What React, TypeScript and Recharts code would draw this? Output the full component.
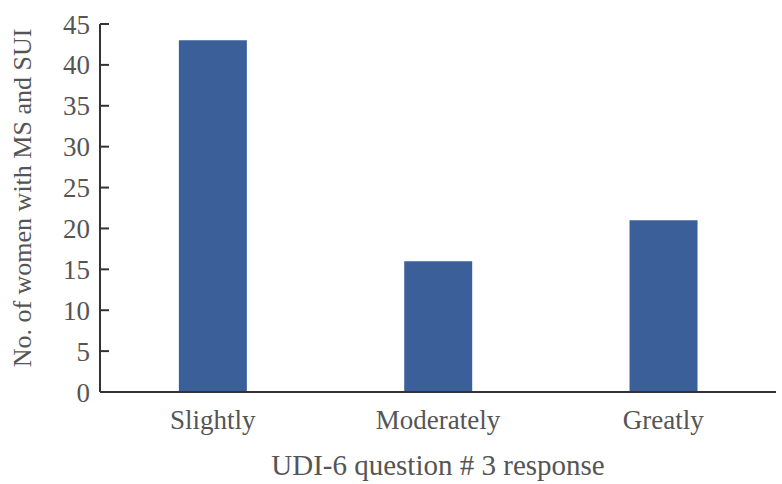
import React from 'react';
import { BarChart, Bar, XAxis, YAxis } from 'recharts';

const categories = ['Slightly', 'Moderately', 'Greatly'];
const counts = [43, 16, 21];
const yTicks = [0, 5, 10, 15, 20, 25, 30, 35, 40, 45];

const data = categories.map((c, i) => ({ name: c, value: counts[i] }));

const FONT = 'Liberation Serif';
const TEXT = '#555555';
const AXIS = '#333333';

const tickStyle = { fill: TEXT, fontSize: 27, fontFamily: FONT };

export default function App() {
  return (
    <div
      style={{
        position: 'absolute',
        left: 0,
        top: 0,
        width: 782,
        height: 484,
        background: '#fff',
        fontFamily: "'Liberation Serif', serif",
      }}
    >
      <BarChart
        width={782}
        height={484}
        data={data}
        margin={{ top: 24, right: 6, bottom: 0, left: 0 }}
        barCategoryGap="35%"
      >
        <XAxis
          xAxisId="edge"
          type="number"
          domain={[0, 1]}
          ticks={[1]}
          height={0}
          axisLine={false}
          tick={{ fontSize: 1, fill: 'none' }}
          tickFormatter={() => ''}
          tickSize={-8}
          tickLine={{ stroke: AXIS, strokeWidth: 2 }}
          allowDataOverflow
        />
        <XAxis
          dataKey="name"
          height={92}
          tickLine={false}
          tickMargin={12}
          axisLine={{ stroke: AXIS, strokeWidth: 2 }}
          tick={tickStyle}
          label={{
            value: 'UDI-6 question # 3 response',
            position: 'insideBottom',
            offset: 9,
            fill: TEXT,
            fontSize: 29,
            fontFamily: FONT,
          }}
        />
        <YAxis
          width={100}
          domain={[0, 45]}
          ticks={yTicks}
          interval={0}
          tickSize={-9}
          tickMargin={19}
          axisLine={{ stroke: AXIS, strokeWidth: 2 }}
          tickLine={{ stroke: AXIS, strokeWidth: 2 }}
          tick={tickStyle}
          label={{
            value: 'No. of women with MS and SUI',
            angle: -90,
            position: 'center',
            dx: -28,
            dy: -10,
            fill: TEXT,
            fontSize: 26,
            fontFamily: FONT,
          }}
        />
        <Bar dataKey="value" fill="#3b5f99" isAnimationActive={false} />
      </BarChart>
    </div>
  );
}
